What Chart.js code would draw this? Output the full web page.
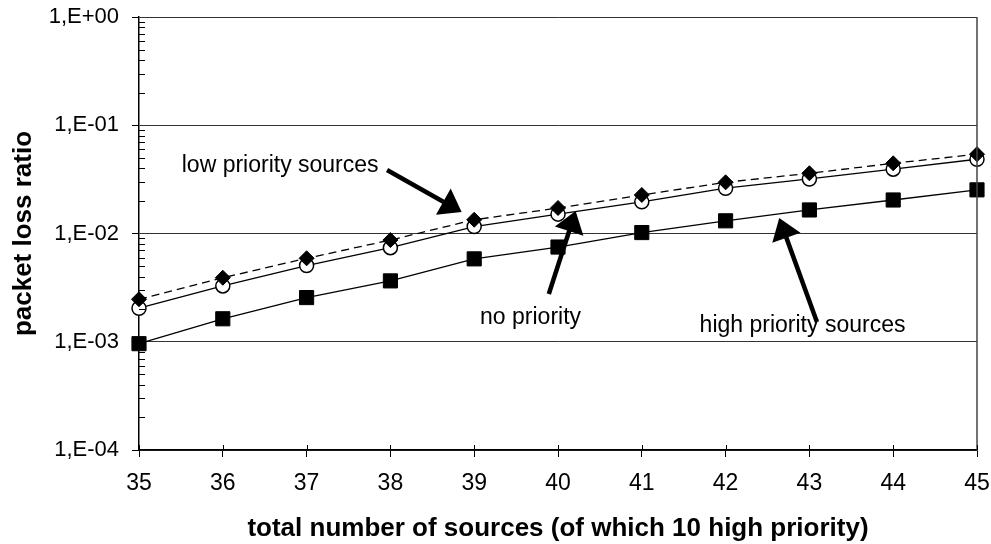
<!DOCTYPE html>
<html>
<head>
<meta charset="utf-8">
<script src="https://cdn.jsdelivr.net/npm/chart.js@4/dist/chart.umd.min.js"></script>
<style>
  html, body { margin: 0; padding: 0; background: #fff; }
  #wrap { width: 991px; height: 544px; }
</style>
</head>
<body>
<div id="wrap"><canvas id="c" width="991" height="544"></canvas></div>
<script>
// ---- data ----
const sources = [35, 36, 37, 38, 39, 40, 41, 42, 43, 44, 45];
const lowPriority  = [0.00247, 0.0039, 0.0059, 0.0087, 0.0134, 0.0172, 0.0227, 0.0297, 0.036, 0.0445, 0.054];
const noPriority   = [0.00204, 0.00328, 0.00506, 0.0074, 0.0116, 0.0151, 0.0196, 0.0262, 0.0319, 0.0393, 0.0485];
const highPriority = [0.00096, 0.00163, 0.00256, 0.00365, 0.00583, 0.0075, 0.0102, 0.0131, 0.0165, 0.0204, 0.0253];
const yTickValues = [1e-4, 1e-3, 1e-2, 1e-1, 1];
const xTitle = 'total number of sources (of which 10 high priority)';
const yTitle = 'packet loss ratio';

// annotations (anchor positions in data units)
const noteTexts  = ['low priority sources', 'no priority', 'high priority sources'];
const noteX      = [35.51, 39.07, 41.69];
const noteY      = [0.037, 0.00146, 0.00123];
const arrowFromX = [37.96, 39.89, 43.09];
const arrowFromY = [0.0386, 0.00276, 0.00152];
const arrowToX   = [38.85, 40.21, 42.64];
const arrowToY   = [0.0158, 0.0161, 0.0139];

const FONT = '"Liberation Sans", Arial, Helvetica, sans-serif';

function fmtTick(v) {
  const e = Math.round(Math.log10(v));
  const s = e >= 0 ? '+' : '-';
  const a = Math.abs(e);
  return '1,E' + s + (a < 10 ? '0' + a : '' + a);
}

const pts = arr => sources.map((x, i) => ({ x: x, y: arr[i] }));

const decor = {
  id: 'decor',
  afterDatasetsDraw(chart) {
    const ctx = chart.ctx;
    const xs = chart.scales.x, ys = chart.scales.y;
    const a = chart.chartArea;
    ctx.save();
    // right border
    ctx.strokeStyle = '#444';
    ctx.lineWidth = 1.5;
    ctx.beginPath();
    ctx.moveTo(a.right, a.top);
    ctx.lineTo(a.right, a.bottom);
    ctx.stroke();
    // minor y ticks (inside)
    ctx.strokeStyle = '#000';
    ctx.lineWidth = 1;
    for (let d = 0; d < yTickValues.length - 1; d++) {
      for (let m = 2; m <= 9; m++) {
        const y = Math.round(ys.getPixelForValue(yTickValues[d] * m)) + 0.5;
        ctx.beginPath();
        ctx.moveTo(a.left, y);
        ctx.lineTo(a.left + 6, y);
        ctx.stroke();
      }
    }
    // inside part of x ticks
    for (const v of sources) {
      const x = Math.round(xs.getPixelForValue(v)) + 0.5;
      ctx.beginPath();
      ctx.moveTo(x, a.bottom);
      ctx.lineTo(x, a.bottom - 5);
      ctx.stroke();
    }
    // annotation texts
    ctx.fillStyle = '#000';
    ctx.font = '23px ' + FONT;
    ctx.textAlign = 'left';
    ctx.textBaseline = 'alphabetic';
    for (let i = 0; i < noteTexts.length; i++) {
      ctx.fillText(noteTexts[i], xs.getPixelForValue(noteX[i]), ys.getPixelForValue(noteY[i]));
    }
    // arrows
    for (let i = 0; i < arrowFromX.length; i++) {
      const x1 = xs.getPixelForValue(arrowFromX[i]), y1 = ys.getPixelForValue(arrowFromY[i]);
      const x2 = xs.getPixelForValue(arrowToX[i]),   y2 = ys.getPixelForValue(arrowToY[i]);
      const ang = Math.atan2(y2 - y1, x2 - x1);
      const hl = 21, hw = 15;
      const bx = x2 - hl * Math.cos(ang), by = y2 - hl * Math.sin(ang);
      ctx.strokeStyle = '#000';
      ctx.lineWidth = 4.5;
      ctx.lineCap = 'butt';
      ctx.beginPath();
      ctx.moveTo(x1, y1);
      ctx.lineTo(bx + 2 * Math.cos(ang), by + 2 * Math.sin(ang));
      ctx.stroke();
      ctx.beginPath();
      ctx.moveTo(x2, y2);
      ctx.lineTo(bx + hw * Math.sin(ang), by - hw * Math.cos(ang));
      ctx.lineTo(bx - hw * Math.sin(ang), by + hw * Math.cos(ang));
      ctx.closePath();
      ctx.fill();
    }
    ctx.restore();
  }
};

new Chart(document.getElementById('c'), {
  type: 'line',
  data: {
    datasets: [
      {
        label: 'low priority sources',
        data: pts(lowPriority),
        borderColor: '#000',
        borderWidth: 1.3,
        borderDash: [8, 5],
        pointStyle: 'rectRot',
        pointRadius: 7.5,
        pointBackgroundColor: '#000',
        pointBorderColor: '#000',
        pointBorderWidth: 1,
        order: 0,
        clip: false
      },
      {
        label: 'no priority',
        data: pts(noPriority),
        borderColor: '#000',
        borderWidth: 1.3,
        pointStyle: 'circle',
        pointRadius: 7,
        pointBackgroundColor: '#fff',
        pointBorderColor: '#000',
        pointBorderWidth: 1.5,
        order: 1,
        clip: false
      },
      {
        label: 'high priority sources',
        data: pts(highPriority),
        borderColor: '#000',
        borderWidth: 1.3,
        pointStyle: 'rect',
        pointRadius: 10,
        pointBackgroundColor: '#000',
        pointBorderColor: '#000',
        pointBorderWidth: 1,
        order: 2,
        clip: false
      }
    ]
  },
  options: {
    responsive: false,
    animation: false,
    events: [],
    layout: { padding: { left: 0, right: 14, top: 17, bottom: 0 } },
    plugins: { legend: { display: false }, tooltip: { enabled: false }, title: { display: false } },
    elements: { line: { tension: 0 } },
    scales: {
      x: {
        type: 'linear',
        min: 35, max: 45,
        afterBuildTicks: s => { s.ticks = sources.map(v => ({ value: v })); },
        afterFit: s => { s.height = 94; s.paddingLeft = 0; s.paddingRight = 0; },
        border: { display: true, color: '#000', width: 1.5 },
        grid: { drawOnChartArea: false, drawTicks: true, tickLength: 7, tickColor: '#000', lineWidth: 1 },
        ticks: { color: '#000', font: { family: FONT, size: 23 }, padding: 13, maxRotation: 0, autoSkip: false },
        title: { display: true, text: xTitle, color: '#000', font: { family: FONT, size: 26, weight: 'bold' }, padding: { top: 0, bottom: 0 } }
      },
      y: {
        type: 'logarithmic',
        min: 1e-4, max: 1,
        afterBuildTicks: s => { s.ticks = yTickValues.map(v => ({ value: v, major: true })); },
        afterFit: s => { s.width = 139; s.paddingTop = 0; s.paddingBottom = 0; },
        border: { display: true, color: '#000', width: 1.5 },
        grid: { drawOnChartArea: true, color: '#333', lineWidth: 1, drawTicks: true, tickLength: 7, tickColor: '#000' },
        ticks: { color: '#000', font: { family: FONT, size: 22 }, padding: 13, callback: v => fmtTick(v), autoSkip: false },
        title: { display: true, text: yTitle, color: '#000', font: { family: FONT, size: 26, weight: 'bold' }, padding: { top: 8, bottom: 0 } }
      }
    }
  },
  plugins: [decor]
});
</script>
</body>
</html>
